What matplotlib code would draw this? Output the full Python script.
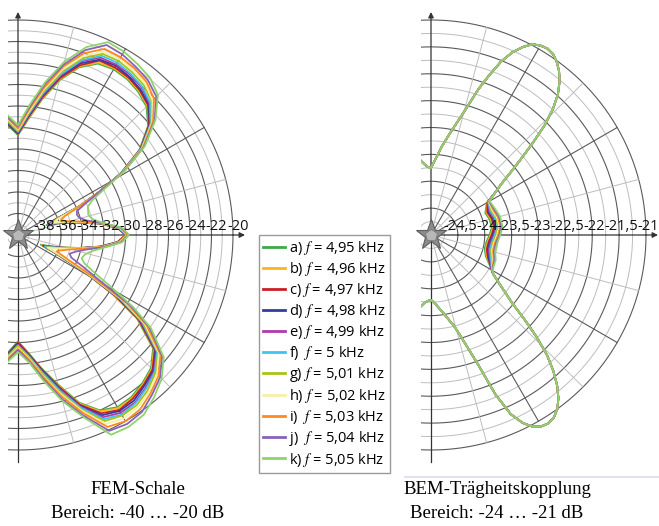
import numpy as np
import matplotlib
matplotlib.use("Agg")
import matplotlib.pyplot as plt
from matplotlib.patches import Rectangle
from matplotlib.lines import Line2D
import matplotlib.transforms as mtransforms

plt.rcParams['mathtext.fontset'] = 'stix'

W, H = 659, 526

# ---------------- data ----------------
legend_labels = ["a) $f$ = 4,95 kHz", "b) $f$ = 4,96 kHz", "c) $f$ = 4,97 kHz",
                 "d) $f$ = 4,98 kHz", "e) $f$ = 4,99 kHz", "f)  $f$ = 5 kHz",
                 "g) $f$ = 5,01 kHz", "h) $f$ = 5,02 kHz", "i)  $f$ = 5,03 kHz",
                 "j)  $f$ = 5,04 kHz", "k) $f$ = 5,05 kHz"]
curve_colors = ['#3daa48', '#f7b81a', '#c8202a', '#303f9f', '#b03aa8', '#3ec4f0',
                '#a8c418', '#f3f0a8', '#ff8a1e', '#8a62b8', '#8fd46a']

fem_theta_deg = [-100, -95, -90, -85, -80, -75, -70, -65, -60, -55, -50, -45, -40, -35,
                 -32, -29, -26, -23, -20, -16, -12, -8, -4, 0, 4, 8, 12, 16, 19, 22,
                 25, 28, 31, 35, 40, 45, 50, 55, 60, 65, 70, 75, 80, 85, 90, 95, 100]
fem_a = [-27.9, -29.0, -30.1, -29.0, -27.4, -25.6, -23.4, -22.0, -21.5, -21.6, -22.0, -22.5, -23.6, -26.5, -29.6, -33.0, -36.1, -37.7, -37.0, -35.8, -34.2, -32.3, -30.7, -30.0, -30.7, -32.3, -34.4, -36.0, -37.2, -36.6, -33.8, -31.4, -28.8, -26.2, -24.2, -23.1, -22.6, -22.3, -22.2, -22.4, -23.4, -25.1, -27.2, -29.2, -30.7, -29.8, -28.5]
fem_b = [-27.8, -28.9, -30.0, -28.9, -27.3, -25.5, -23.3, -21.9, -21.4, -21.5, -21.9, -22.4, -23.5, -26.4, -29.5, -32.9, -36.0, -37.6, -36.9, -35.8, -34.2, -32.3, -30.7, -30.0, -30.7, -32.3, -34.4, -35.9, -37.1, -36.5, -33.8, -31.4, -28.8, -26.2, -24.1, -23.0, -22.5, -22.2, -22.1, -22.3, -23.3, -25.0, -27.1, -29.1, -30.6, -29.7, -28.4]
fem_c = [-27.8, -28.9, -30.0, -28.9, -27.3, -25.4, -23.2, -21.7, -21.2, -21.4, -21.8, -22.3, -23.4, -26.3, -29.3, -32.9, -35.9, -37.5, -36.9, -35.7, -34.1, -32.2, -30.7, -30.0, -30.7, -32.3, -34.3, -35.9, -37.0, -36.5, -33.7, -31.4, -28.8, -26.1, -24.1, -22.9, -22.4, -22.1, -22.0, -22.1, -23.2, -24.9, -27.0, -29.0, -30.6, -29.7, -28.4]
fem_d = [-27.7, -28.8, -29.9, -28.8, -27.2, -25.3, -23.1, -21.5, -21.1, -21.2, -21.7, -22.2, -23.3, -26.2, -29.2, -32.8, -35.9, -37.4, -36.8, -35.7, -34.1, -32.2, -30.6, -29.9, -30.6, -32.2, -34.3, -35.8, -37.0, -36.4, -33.7, -31.4, -28.7, -26.1, -24.0, -22.8, -22.3, -22.0, -21.8, -22.0, -23.0, -24.7, -26.9, -28.9, -30.5, -29.6, -28.3]
fem_e = [-27.6, -28.7, -29.8, -28.7, -27.1, -25.2, -23.0, -21.3, -20.9, -21.0, -21.5, -22.1, -23.2, -26.1, -29.0, -32.8, -35.8, -37.3, -36.7, -35.6, -34.1, -32.2, -30.6, -29.9, -30.6, -32.2, -34.3, -35.8, -36.9, -36.3, -33.7, -31.4, -28.7, -26.0, -23.9, -22.7, -22.1, -21.8, -21.7, -21.8, -22.8, -24.6, -26.8, -28.8, -30.4, -29.5, -28.2]
fem_f = [-27.6, -28.7, -29.7, -28.7, -27.0, -25.0, -22.9, -21.1, -20.7, -20.9, -21.4, -22.0, -23.1, -25.9, -28.8, -32.7, -35.7, -37.3, -36.7, -35.6, -34.1, -32.1, -30.6, -29.9, -30.6, -32.2, -34.3, -35.7, -36.8, -36.2, -33.7, -31.4, -28.7, -26.0, -23.9, -22.6, -22.0, -21.7, -21.5, -21.6, -22.7, -24.5, -26.6, -28.7, -30.4, -29.4, -28.1]
fem_g = [-27.5, -28.6, -29.7, -28.6, -26.9, -24.9, -22.7, -20.9, -20.6, -20.7, -21.2, -21.9, -23.0, -25.8, -28.6, -32.6, -35.6, -37.1, -36.6, -35.5, -34.0, -32.1, -30.5, -29.9, -30.5, -32.2, -34.2, -35.6, -36.7, -36.1, -33.6, -31.3, -28.6, -25.9, -23.8, -22.4, -21.8, -21.5, -21.3, -21.4, -22.5, -24.3, -26.5, -28.6, -30.3, -29.4, -28.1]
fem_h = [-27.4, -28.5, -29.5, -28.5, -26.7, -24.7, -22.6, -20.6, -20.3, -20.5, -21.0, -21.7, -22.9, -25.6, -28.4, -32.5, -35.4, -37.0, -36.4, -35.4, -34.0, -32.0, -30.5, -29.8, -30.5, -32.1, -34.1, -35.5, -36.5, -36.0, -33.6, -31.3, -28.6, -25.9, -23.7, -22.3, -21.6, -21.3, -21.1, -21.2, -22.3, -24.1, -26.3, -28.5, -30.2, -29.2, -27.9]
fem_i = [-27.3, -28.4, -29.4, -28.4, -26.6, -24.5, -22.4, -20.3, -20.0, -20.2, -20.8, -21.5, -22.7, -25.4, -28.1, -32.2, -34.9, -36.1, -35.8, -35.1, -33.9, -32.0, -30.4, -29.8, -30.4, -32.1, -34.0, -35.3, -35.8, -35.3, -33.7, -31.4, -28.5, -25.8, -23.6, -22.1, -21.4, -21.1, -20.9, -20.9, -22.0, -23.8, -26.1, -28.3, -30.1, -29.1, -27.8]
fem_j = [-27.1, -28.2, -29.3, -28.2, -26.4, -24.2, -22.1, -19.9, -19.7, -19.9, -20.6, -21.3, -22.5, -25.1, -27.7, -31.4, -33.3, -34.6, -34.9, -34.4, -33.5, -31.9, -30.4, -29.7, -30.4, -32.0, -33.5, -34.1, -34.2, -34.1, -33.1, -31.3, -28.5, -25.7, -23.4, -21.8, -21.2, -20.9, -20.6, -20.5, -21.7, -23.6, -25.8, -28.1, -29.9, -29.0, -27.6]
fem_k = [-27.0, -28.1, -29.1, -28.1, -26.2, -24.0, -21.9, -19.5, -19.4, -19.6, -20.3, -21.1, -22.3, -24.9, -27.4, -30.2, -32.2, -33.3, -33.7, -33.5, -32.9, -31.8, -30.3, -29.7, -30.3, -32.0, -32.9, -33.2, -33.1, -33.0, -32.4, -30.9, -28.4, -25.6, -23.3, -21.6, -20.9, -20.6, -20.3, -20.2, -21.4, -23.3, -25.6, -27.9, -29.8, -28.8, -27.5]
fem_curves = [fem_a, fem_b, fem_c, fem_d, fem_e, fem_f, fem_g, fem_h, fem_i, fem_j, fem_k]

bem_low_theta = [-100, -96, -93, -90, -87, -84, -81, -78, -76, -74, -72, -70, -68, -66, -64,
                 -62, -60, -58, -56, -54, -52, -50, -48, -46, -44, -42, -40, -38, -36, -34, -32]
bem_low = [-23.60, -23.72, -23.77, -23.79, -23.73, -23.64, -23.53, -23.38, -23.27, -23.08,
           -22.80, -22.43, -21.80, -21.35, -21.11, -20.96, -20.89, -20.87, -20.91, -21.00,
           -21.15, -21.35, -21.60, -21.89, -22.27, -22.67, -23.03, -23.23, -23.40, -23.53, -23.64]
bem_wig_theta = [-28, -21, -14, -7, 0, 7, 15, 22, 30]
bem_wig_a = [-23.75, -23.91, -23.97, -23.96, -23.91, -23.86, -23.87, -23.91, -23.80]
bem_wig_b = [-23.74, -23.89, -23.95, -23.94, -23.89, -23.84, -23.85, -23.89, -23.79]
bem_wig_c = [-23.74, -23.87, -23.93, -23.92, -23.87, -23.82, -23.83, -23.87, -23.79]
bem_wig_d = [-23.73, -23.85, -23.91, -23.90, -23.85, -23.80, -23.81, -23.85, -23.78]
bem_wig_e = [-23.73, -23.83, -23.89, -23.88, -23.83, -23.78, -23.79, -23.83, -23.78]
bem_wig_f = [-23.72, -23.81, -23.87, -23.86, -23.81, -23.76, -23.77, -23.81, -23.77]
bem_wig_g = [-23.71, -23.79, -23.85, -23.84, -23.79, -23.74, -23.75, -23.79, -23.76]
bem_wig_h = [-23.71, -23.77, -23.83, -23.82, -23.77, -23.72, -23.73, -23.77, -23.76]
bem_wig_i = [-23.70, -23.75, -23.81, -23.80, -23.75, -23.70, -23.71, -23.75, -23.75]
bem_wig_j = [-23.70, -23.73, -23.79, -23.78, -23.73, -23.68, -23.69, -23.73, -23.75]
bem_wig_k = [-23.69, -23.71, -23.77, -23.76, -23.71, -23.66, -23.67, -23.71, -23.74]
bem_wigs = [bem_wig_a, bem_wig_b, bem_wig_c, bem_wig_d, bem_wig_e, bem_wig_f,
            bem_wig_g, bem_wig_h, bem_wig_i, bem_wig_j, bem_wig_k]
bem_up_theta = [34, 36, 38, 40, 42, 44, 46, 48, 50, 52, 54, 56, 58, 60, 62, 64, 66, 68,
                70, 72, 74, 76, 78, 80, 83, 86, 90, 93, 96, 100]
bem_up = [-23.53, -23.38, -23.14, -22.84, -22.47, -22.06, -21.73, -21.47, -21.28, -21.13,
          -21.02, -20.94, -20.91, -20.93, -20.98, -21.11, -21.28, -21.52, -21.84, -22.15,
          -22.49, -22.75, -22.95, -23.12, -23.34, -23.55, -23.75, -23.73, -23.66, -23.53]

fem_rings = [-39, -38, -37, -36, -35, -34, -33, -32, -31, -30, -29, -28, -27, -26, -25,
             -24, -23, -22, -21, -20]
fem_ticks = [-38, -36, -34, -32, -30, -28, -26, -24, -22, -20]
fem_ticklabels = ["-38", "-36", "-34", "-32", "-30", "-28", "-26", "-24", "-22", "-20"]
bem_rings = [-24.75, -24.5, -24.25, -24.0, -23.75, -23.5, -23.25, -23.0, -22.75, -22.5,
             -22.25, -22.0, -21.75, -21.5, -21.25, -21.0]
bem_ticks = [-24.5, -24.0, -23.5, -23.0, -22.5, -22.0, -21.5, -21.0]
bem_ticklabels = ["-24,5", "-24", "-23,5", "-23", "-22,5", "-22", "-21,5", "-21"]
spoke_deg = [-75, -60, -45, -30, -15, 15, 30, 45, 60, 75]

# ---------------- figure ----------------
fig = plt.figure(figsize=(W / 100, H / 100), dpi=100)

DARK = '#5a5a5a'
LIGHT = '#bdbdbd'
AXC = '#333333'
R = 215
full = np.linspace(0, 2 * np.pi, 721)


def clip_rect(x0, x1):
    return Rectangle((x0 / W, 0), (x1 - x0) / W, 1, transform=fig.transFigure)


def polar_panel(cx, cy, rmin, rmax, rings, dark_rings, ticks, ticklabels, clipx, ext_top,
                ext_right, ext_bottom, label_dx):
    ax = fig.add_axes([(cx - R) / W, (H - cy - R) / H, 2 * R / W, 2 * R / H],
                      projection='polar')
    ax.set_axis_off()
    ax.set_ylim(rmin, rmax)
    ax.set_autoscale_on(False)
    rect = clip_rect(*clipx)
    for r in rings:
        dark = r in dark_rings
        ln, = ax.plot(full, np.full_like(full, r), color=DARK if dark else LIGHT,
                      lw=0.8 if dark else 0.7, zorder=1)
        ln.set_clip_path(rect)
    for d in spoke_deg:
        dark = d % 30 == 0
        ln, = ax.plot([np.deg2rad(d)] * 2, [rmin, rmax], color=DARK if dark else LIGHT,
                      lw=0.8 if dark else 0.7, zorder=1)
        ln.set_clip_path(rect)
    ln, = ax.plot([-np.pi / 2, -np.pi / 2], [ext_bottom, rmin], color=AXC, lw=0.9, zorder=2)
    ln.set_clip_path(rect)
    arrow = dict(arrowstyle='-|>', color=AXC, lw=0.9, mutation_scale=8,
                 shrinkA=0, shrinkB=0)
    ax.annotate('', xy=(np.pi / 2, ext_top), xytext=(np.pi / 2, rmin),
                arrowprops=arrow, annotation_clip=False)
    ax.annotate('', xy=(0, ext_right), xytext=(0, rmin),
                arrowprops=arrow, annotation_clip=False)
    tr = mtransforms.offset_copy(ax.transData, fig=fig, x=label_dx, y=5, units='dots')
    for r, lab in zip(ticks, ticklabels):
        ax.text(0, r, lab, transform=tr, ha='center', va='baseline', fontsize=10.5,
                family='Open Sans', color='#111111', zorder=6, clip_on=False)
    # loudspeaker star at the origin
    ax.plot([0], [rmin], marker='*', ms=23, color='#8c8c8c', mec='#5e5e5e', mew=0.8,
            zorder=7, clip_on=False)
    ax.plot([0], [rmin], marker='p', ms=9, color='#b8b8b8', mec='#777777', mew=0.5,
            zorder=8, clip_on=False)
    return ax, rect


# FEM panel
ax1, rect1 = polar_panel(18, 235, -40, -20, fem_rings, fem_ticks, fem_ticks, fem_ticklabels,
                         (8, 256), -40 + 223 / 10.75, -40 + 227 / 10.75, -40 + 227 / 10.75, 5)
fem_th = np.deg2rad(fem_theta_deg)
fem_lines = []
for vals, col in zip(fem_curves, curve_colors):
    ln, = ax1.plot(fem_th, vals, color=col, lw=1.3, zorder=3)
    ln.set_clip_path(rect1)
    fem_lines.append(ln)

# BEM panel
ax2, rect2 = polar_panel(431, 235, -25, -21, bem_rings, bem_ticks, bem_ticks, bem_ticklabels,
                         (421, 659), -25 + 223 / 53.75, -25 + 227 / 53.75, -25 + 227 / 53.75, 2)
bem_th = np.deg2rad(bem_low_theta + bem_wig_theta + bem_up_theta)
for wig, col in zip(bem_wigs, curve_colors):
    ln, = ax2.plot(bem_th, bem_low + wig + bem_up, color=col, lw=1.3, zorder=3)
    ln.set_clip_path(rect2)

# legend
leg = fig.legend(fem_lines, legend_labels, loc='upper left',
                 bbox_to_anchor=(259 / W, 1 - 235 / H), bbox_transform=fig.transFigure,
                 frameon=True, fancybox=False, edgecolor='#9a9a9a', framealpha=1,
                 borderpad=0.3, labelspacing=0.2, handlelength=1.45, handletextpad=0.3,
                 borderaxespad=0, prop={'family': 'Open Sans', 'size': 10.5})
leg.get_frame().set_linewidth(1.0)
for h in leg.legend_handles:
    h.set_linewidth(2.0)

# captions
serif = 'Liberation Serif'
fig.text(138 / W, 1 - 490 / H, 'FEM-Schale', ha='center', va='center', fontsize=13.5,
         family=serif)
fig.text(138 / W, 1 - 513 / H, 'Bereich: -40 \u2026 -20 dB', ha='center', va='center',
         fontsize=13.5, family=serif)
fig.text(497 / W, 1 - 490 / H, 'BEM-Tr\u00e4gheitskopplung', ha='center', va='center',
         fontsize=13.5, family=serif)
fig.text(497 / W, 1 - 513 / H, 'Bereich: -24 \u2026 -21 dB', ha='center', va='center',
         fontsize=13.5, family=serif)

# faint separator line at lower right
fig.add_artist(Line2D([405 / W, 1.0], [1 - 477 / H, 1 - 477 / H], color='#dcdcf0', lw=1.2,
                      transform=fig.transFigure))

fig.savefig('out.png', dpi=100)
